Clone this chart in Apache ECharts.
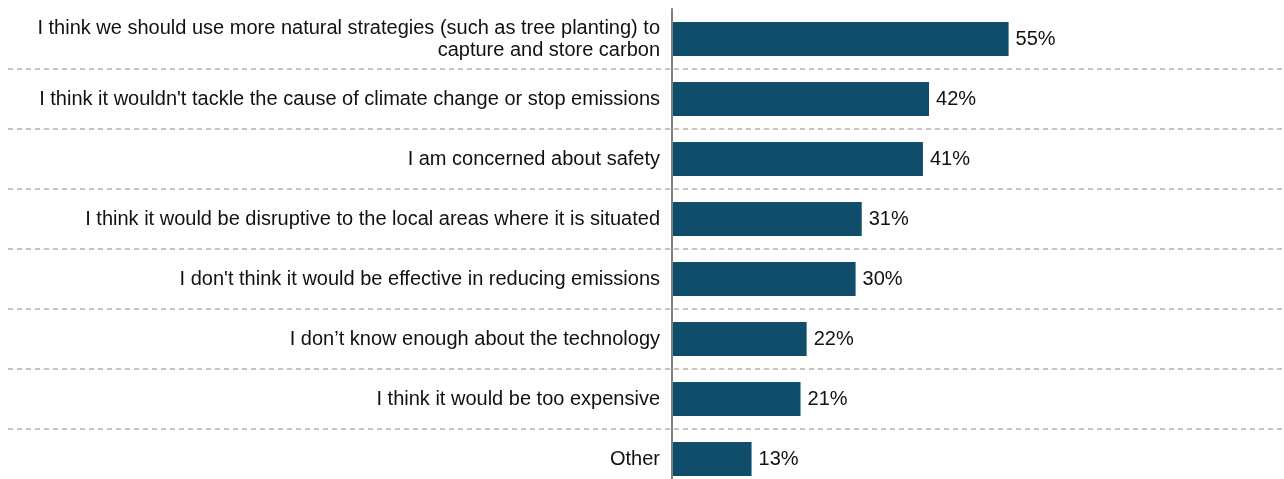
<!DOCTYPE html>
<html>
<head>
<meta charset="utf-8">
<script src="https://cdn.jsdelivr.net/npm/echarts@6/dist/echarts.min.js"></script>
<style>
  html, body { margin: 0; padding: 0; background: #ffffff; }
  #chart { width: 1284px; height: 479px; }
</style>
</head>
<body>
<div id="chart"></div>
<script>
// Reasons given for opposing carbon capture (share of respondents, %)
const categories = [
  "I think we should use more natural strategies (such as tree planting) to\ncapture and store carbon",
  "I think it wouldn't tackle the cause of climate change or stop emissions",
  "I am concerned about safety",
  "I think it would be disruptive to the local areas where it is situated",
  "I don't think it would be effective in reducing emissions",
  "I don\u2019t know enough about the technology",
  "I think it would be too expensive",
  "Other"
];
const values = [55, 42, 41, 31, 30, 22, 21, 13];

const FONT = '"Liberation Sans", Arial, sans-serif';
const chart = echarts.init(document.getElementById('chart'), null, { renderer: 'canvas' });

chart.setOption({
  animation: false,
  backgroundColor: '#ffffff',
  grid: [
    // bars
    { left: 672, right: 0, top: 9, bottom: -10, containLabel: false, outerBoundsMode: 'none' },
    // full-width row separators
    { left: 8, right: 0, top: 9, bottom: -10, containLabel: false, outerBoundsMode: 'none' }
  ],
  xAxis: [
    { gridIndex: 0, type: 'value', min: 0, max: 100, show: false, splitLine: { show: false } },
    { gridIndex: 1, type: 'value', min: 0, max: 1, show: false, splitLine: { show: false } }
  ],
  yAxis: [
    {
      gridIndex: 0,
      type: 'category',
      data: categories,
      inverse: true,
      z: 5,
      axisLine: { show: true, lineStyle: { color: '#808080', width: 2 } },
      axisTick: { show: false },
      splitLine: { show: false },
      axisLabel: {
        margin: 12,
        fontFamily: FONT,
        fontSize: 20,
        color: '#111111',
        align: 'right',
        lineHeight: 22
      }
    },
    {
      gridIndex: 1,
      type: 'category',
      data: categories,
      inverse: true,
      axisLine: { show: false },
      axisTick: { show: false },
      axisLabel: { show: false },
      splitLine: {
        show: true,
        showMinLine: false,
        showMaxLine: false,
        lineStyle: { color: '#b0b0b0', width: 1.5, type: [5, 4] }
      }
    }
  ],
  series: [
    {
      type: 'bar',
      xAxisIndex: 0,
      yAxisIndex: 0,
      data: values,
      barWidth: 34,
      itemStyle: { color: '#0f4d6b' },
      label: {
        show: true,
        position: 'right',
        distance: 7,
        formatter: '{c}%',
        fontFamily: FONT,
        fontSize: 20,
        color: '#111111'
      }
    }
  ]
});
</script>
</body>
</html>
